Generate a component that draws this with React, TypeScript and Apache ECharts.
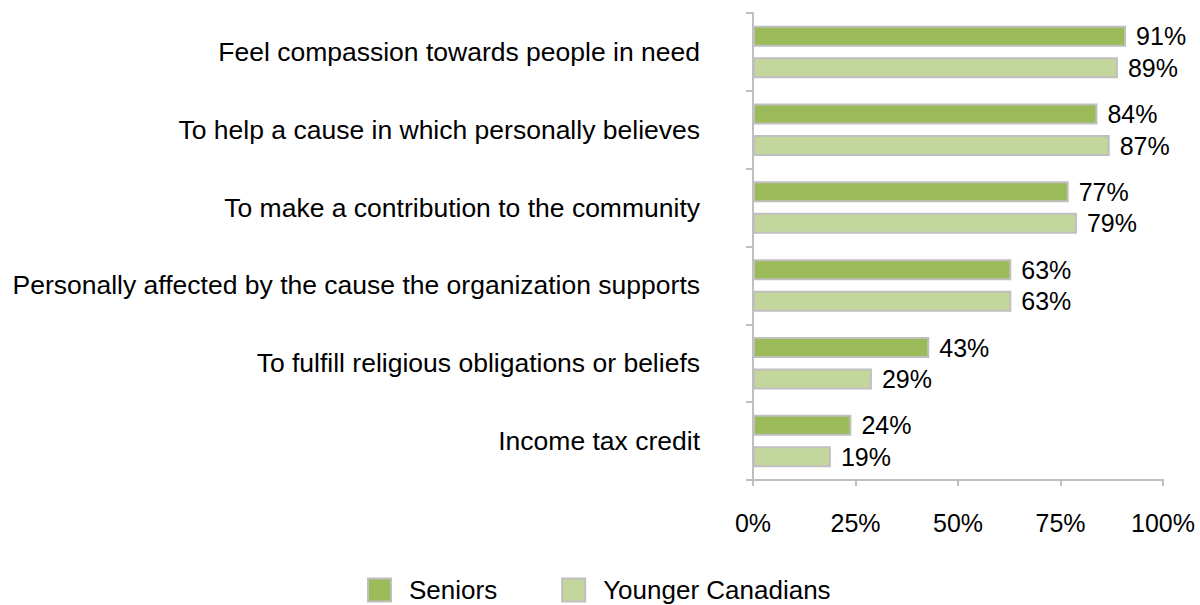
import React, { useEffect, useRef } from "react";
import * as echarts from "echarts";

const categories = [
  "Feel compassion towards people in need",
  "To help a cause in which personally believes",
  "To make a contribution to the community",
  "Personally affected by the cause the organization supports",
  "To fulfill religious obligations or beliefs",
  "Income tax credit",
];
const seniors = [91, 84, 77, 63, 43, 24];
const younger = [89, 87, 79, 63, 29, 19];
const xTicks = [0, 25, 50, 75, 100];
const seriesNames = ["Seniors", "Younger Canadians"];

const FONT = "'Liberation Sans', Arial, sans-serif";

export default function App() {
  const ref = useRef<HTMLDivElement>(null);
  useEffect(() => {
    if (!ref.current) return;
    const chart = echarts.init(ref.current, undefined, { renderer: "svg" });
    const labelCfg = {
      show: true,
      position: "right",
      distance: 10,
      formatter: "{c}%",
      color: "#000",
      fontSize: 25,
      fontFamily: FONT,
    };
    chart.setOption({
      animation: false,
      backgroundColor: "#fff",
      textStyle: { fontFamily: FONT },
      grid: { left: 753, right: 37, top: 13, bottom: 125, containLabel: false },
      legend: {
        left: 362,
        top: 572,
        itemWidth: 23,
        itemHeight: 23,
        itemGap: 64,
        icon: "rect",
        data: seriesNames,
        itemStyle: { borderColor: "#BFBFBF", borderWidth: 2 },
        textStyle: { fontSize: 26, color: "#000", fontFamily: FONT, padding: [0, 0, 0, 13] },
      },
      xAxis: {
        type: "value",
        min: xTicks[0],
        max: xTicks[xTicks.length - 1],
        interval: 25,
        axisLine: { show: true, lineStyle: { color: "#BFBFBF", width: 2 } },
        axisTick: { show: true, length: 6, lineStyle: { color: "#BFBFBF", width: 2 } },
        splitLine: { show: false },
        axisLabel: { formatter: "{value}%", fontSize: 25, color: "#000", margin: 30, fontFamily: FONT },
      },
      yAxis: {
        type: "category",
        inverse: true,
        data: categories,
        axisLine: { show: true, lineStyle: { color: "#BFBFBF", width: 2 } },
        axisTick: { show: true, length: 7, lineStyle: { color: "#BFBFBF", width: 2 } },
        axisLabel: { fontSize: 26.5, color: "#000", margin: 53, fontFamily: FONT },
      },
      series: [
        {
          name: seriesNames[0],
          type: "bar",
          data: seniors,
          barWidth: 21,
          barGap: "50%",
          itemStyle: { color: "#9BBB59", borderColor: "#BFBFBF", borderWidth: 2 },
          label: labelCfg,
        },
        {
          name: seriesNames[1],
          type: "bar",
          data: younger,
          barWidth: 21,
          barGap: "50%",
          itemStyle: { color: "#C3D69B", borderColor: "#BFBFBF", borderWidth: 2 },
          label: labelCfg,
        },
      ],
    });
    return () => chart.dispose();
  }, []);
  return (
    <div
      ref={ref}
      style={{ position: "fixed", left: 0, top: 0, width: 1200, height: 605 }}
    />
  );
}
